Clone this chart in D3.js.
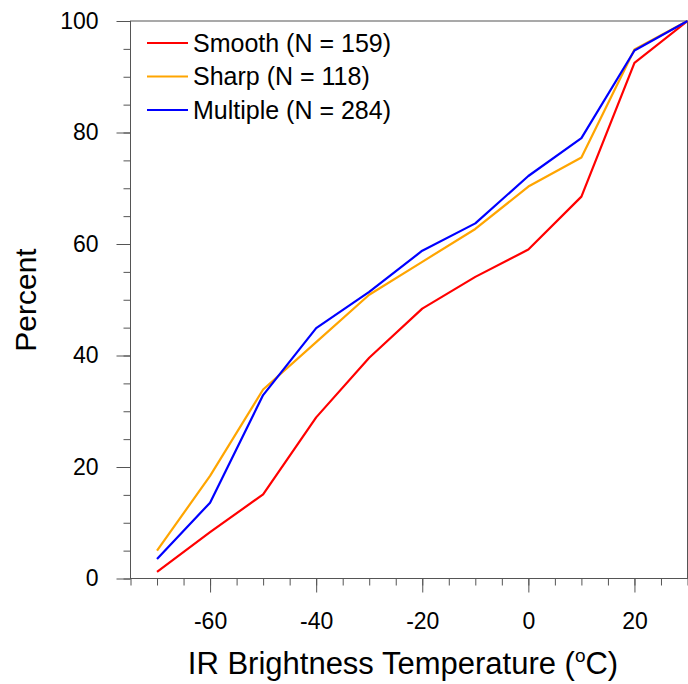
<!DOCTYPE html>
<html>
<head>
<meta charset="utf-8">
<script src="https://cdn.jsdelivr.net/npm/d3@7"></script>
<style>
  body { margin: 0; background: #fff; }
  svg text { font-family: "Liberation Sans", Arial, Helvetica, sans-serif; fill: #000; }
</style>
</head>
<body>
<div id="chart"></div>
<script>
// IR brightness temperature bins (deg C)
var temps = [-70, -60, -50, -40, -30, -20, -10, 0, 10, 20, 30];
// cumulative percent for each storm type
var smoothPct = [1.2, 8.3, 15.1, 28.9, 39.6, 48.4, 54.1, 59.0, 68.5, 92.5, 100];
var sharpPct = [5.0, 18.4, 33.9, 42.4, 50.9, 56.8, 62.7, 70.3, 75.5, 94.9, 100];
var multiplePct = [3.5, 13.6, 32.9, 44.9, 51.4, 58.8, 63.7, 72.2, 79.0, 94.7, 100];
var seriesNames = ["Smooth (N = 159)", "Sharp (N = 118)", "Multiple (N = 284)"];
var seriesColors = ["#ff0000", "#ffa500", "#0000ff"];
var xTicks = [-60, -40, -20, 0, 20];
var yTicks = [0, 20, 40, 60, 80, 100];

var width = 688, height = 684;
var plotLeft = 130.5, plotRight = 687.5, plotTop = 21, plotBottom = 578.5;

var svg = d3.select("#chart").append("svg")
    .attr("width", width)
    .attr("height", height);

var x = d3.scaleLinear().domain([-75, 30]).range([plotLeft, plotRight]);
var y = d3.scaleLinear().domain([0, 100]).range([plotBottom, plotTop]);

var minorX = d3.range(-75, 31, 5);
var minorY = d3.range(0, 101, 5);

// minor ticks first, then the labelled ones
svg.append("g")
    .attr("transform", "translate(0," + plotBottom + ")")
    .call(d3.axisBottom(x).tickValues(minorX).tickSize(7).tickFormat(""))
    .call(function (g) { g.select(".domain").remove(); });
svg.append("g")
    .attr("transform", "translate(" + plotLeft + ",0)")
    .call(d3.axisLeft(y).tickValues(minorY).tickSize(7).tickFormat(""))
    .call(function (g) { g.select(".domain").remove(); });

var xAxis = svg.append("g")
    .attr("transform", "translate(0," + plotBottom + ")")
    .call(d3.axisBottom(x).tickValues(xTicks).tickSize(14).tickPadding(20).tickFormat(function (d) { return d; }));
var yAxis = svg.append("g")
    .attr("transform", "translate(" + plotLeft + ",0)")
    .call(d3.axisLeft(y).tickValues(yTicks).tickSize(14).tickPadding(18).tickFormat(function (d) { return d; }));

[xAxis, yAxis].forEach(function (g) {
    g.select(".domain").remove();
    g.selectAll("text").attr("font-size", "23px").attr("fill", "#000")
        .style("font-family", "'Liberation Sans', Arial, sans-serif");
});
svg.selectAll(".tick line").attr("stroke", "#555").attr("stroke-width", 1);

// plot frame
svg.append("rect")
    .attr("x", plotLeft)
    .attr("y", plotTop)
    .attr("width", plotRight - plotLeft)
    .attr("height", plotBottom - plotTop)
    .attr("fill", "none")
    .attr("stroke", "#555")
    .attr("stroke-width", 1);

var line = d3.line()
    .x(function (d) { return x(d[0]); })
    .y(function (d) { return y(d[1]); });

[smoothPct, sharpPct, multiplePct].forEach(function (vals, i) {
    svg.append("path")
        .datum(temps.map(function (t, j) { return [t, vals[j]]; }))
        .attr("fill", "none")
        .attr("stroke", seriesColors[i])
        .attr("stroke-width", 2.2)
        .attr("stroke-linejoin", "round")
        .attr("d", line);
});

// legend in the upper left
var legend = svg.append("g").attr("transform", "translate(147,43)");
seriesNames.forEach(function (name, i) {
    var row = legend.append("g").attr("transform", "translate(0," + (i * 33.5) + ")");
    row.append("line")
        .attr("x1", 0).attr("x2", 41)
        .attr("y1", 0).attr("y2", 0)
        .attr("stroke", seriesColors[i])
        .attr("stroke-width", 2);
    row.append("text")
        .attr("x", 46)
        .attr("y", 0)
        .attr("dy", "0.35em")
        .attr("font-size", "25px")
        .text(name);
});

// axis titles
var xTitle = svg.append("text")
    .attr("x", (plotLeft + plotRight) / 2 - 6)
    .attr("y", 674)
    .attr("text-anchor", "middle")
    .attr("font-size", "31px");
xTitle.append("tspan").text("IR Brightness Temperature (");
xTitle.append("tspan").attr("font-size", "19px").attr("dy", "-12").text("o");
xTitle.append("tspan").attr("dy", "12").text("C)");

svg.append("text")
    .attr("transform", "translate(36,300) rotate(-90)")
    .attr("text-anchor", "middle")
    .attr("font-size", "30px")
    .text("Percent");
</script>
</body>
</html>
